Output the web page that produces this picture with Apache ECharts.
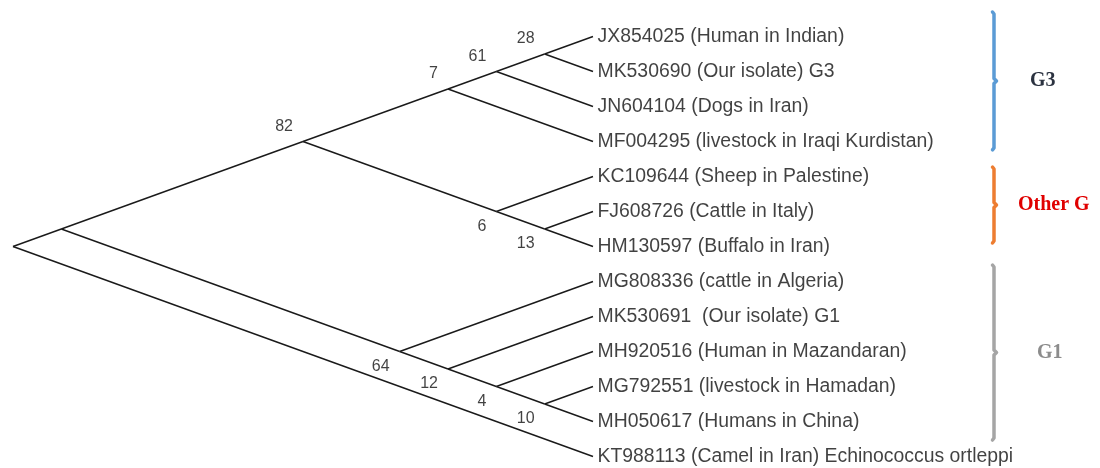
<!DOCTYPE html>
<html>
<head>
<meta charset="utf-8">
<script src="https://cdn.jsdelivr.net/npm/echarts@6/dist/echarts.min.js"></script>
<style>
html,body{margin:0;padding:0;background:#fff;}
#chart{width:1100px;height:468px;}
</style>
</head>
<body>
<div id="chart"></div>
<script>
// ---------- data ----------
const leaves = [
  'JX854025 (Human in Indian)',
  'MK530690 (Our isolate) G3',
  'JN604104 (Dogs in Iran)',
  'MF004295 (livestock in Iraqi Kurdistan)',
  'KC109644 (Sheep in Palestine)',
  'FJ608726 (Cattle in Italy)',
  'HM130597 (Buffalo in Iran)',
  'MG808336 (cattle in Algeria)',
  'MK530691  (Our isolate) G1',
  'MH920516 (Human in Mazandaran)',
  'MG792551 (livestock in Hamadan)',
  'MH050617 (Humans in China)',
  'KT988113 (Camel in Iran) Echinococcus ortleppi'
];
// topology (leaf indices), nested
const tree = [[[[[[0, 1], 2], 3], [4, [5, 6]]], [7, [8, [9, [10, 11]]]]], 12];
// bootstrap supports of internal nodes, pre-order
const supports = [null, null, 82, 7, 61, 28, 6, 13, 64, 12, 4, 10];
// clade groups
const groupNames = ['G3', 'Other G', 'G1'];
const groupFirst = [0, 4, 7];
const groupLast = [3, 6, 11];

// ---------- styles ----------
const groupColors = ['#5b9bd5', '#ed7d31', '#a5a5a5'];
const groupTextColors = ['#2b3240', '#e00000', '#8c8c8c'];
const groupPad = [[0.70, 0.24], [0.27, -0.1], [0.47, 0.53]];
const groupTextLeft = [1030, 1018, 1037];
const bracketX = 994;

// ---------- layout from topology ----------
const edges = [];
const nodeLabels = [];
let pre = 0;
function layout(node) {
  if (typeof node === 'number') {
    return {x: 0, y: node, min: node, max: node};
  }
  const idx = pre++;
  const kids = node.map(layout);
  const min = Math.min(...kids.map(k => k.min));
  const max = Math.max(...kids.map(k => k.max));
  const me = {x: -(max - min) / 2, y: (min + max) / 2, min, max};
  kids.forEach((k, i) => {
    edges.push([me.x, me.y, k.x, k.y]);
    if (k.sup != null) {
      nodeLabels.push({value: [k.x, k.y, k.sup], above: i === 0});
    }
  });
  me.sup = supports[idx];
  return me;
}
layout(tree);

const chart = echarts.init(document.getElementById('chart'), null, {renderer: 'canvas'});
chart.setOption({
  animation: false,
  backgroundColor: '#ffffff',
  grid: {left: 13, right: 507, top: 36.5, bottom: 11.5},
  xAxis: {type: 'value', min: -6, max: 0, show: false},
  yAxis: {type: 'value', min: 0, max: 12, inverse: true, show: false},
  series: [
    {
      type: 'custom',
      clip: false,
      data: edges,
      encode: {x: [0, 2], y: [1, 3]},
      renderItem: function (params, api) {
        const p1 = api.coord([api.value(0), api.value(1)]);
        const p2 = api.coord([api.value(2), api.value(3)]);
        return {
          type: 'line',
          shape: {x1: p1[0], y1: p1[1], x2: p2[0], y2: p2[1]},
          style: {stroke: '#1a1a1a', lineWidth: 1.4}
        };
      }
    },
    {
      type: 'scatter',
      symbolSize: 1,
      itemStyle: {color: 'rgba(0,0,0,0)'},
      data: leaves.map((n, i) => ({value: [0, i], name: n})),
      label: {
        show: true,
        position: 'right',
        distance: 4,
        formatter: p => p.name,
        fontFamily: 'Liberation Sans, Arial, sans-serif',
        fontSize: 19.4,
        color: '#111111',
        textBorderWidth: 0
      }
    },
    {
      type: 'scatter',
      symbolSize: 1,
      itemStyle: {color: 'rgba(0,0,0,0)'},
      data: nodeLabels.map(n => ({
        value: n.value,
        label: {offset: [-10, n.above ? -15 : 15]}
      })),
      label: {
        show: true,
        position: 'inside',
        align: 'right',
        verticalAlign: 'middle',
        formatter: p => String(p.value[2]),
        fontFamily: 'Liberation Sans, Arial, sans-serif',
        fontSize: 16,
        color: '#111111',
        textBorderWidth: 0
      }
    },
    {
      type: 'custom',
      clip: false,
      data: groupNames.map((g, i) => [0, groupFirst[i], groupLast[i], i]),
      encode: {x: 0, y: [1, 2]},
      renderItem: function (params, api) {
        const gi = api.value(3);
        const y1 = api.coord([0, api.value(1) - groupPad[gi][0]])[1];
        const y2 = api.coord([0, api.value(2) + groupPad[gi][1]])[1];
        const ym = (y1 + y2) / 2;
        const x = bracketX;
        return {
          type: 'group',
          children: [
            {
              type: 'polyline',
              shape: {points: [[x - 1.5, y1], [x, y1 + 2], [x, ym - 2.5], [x + 2.5, ym], [x, ym + 2.5], [x, y2 - 2], [x - 1.5, y2]]},
              style: {stroke: groupColors[gi], lineWidth: 3.5, fill: null, lineJoin: 'round', lineCap: 'round'}
            },
            {
              type: 'text',
              x: groupTextLeft[gi],
              y: ym,
              style: {
                text: groupNames[gi],
                fill: groupTextColors[gi],
                font: 'bold 20px "Liberation Serif", "Times New Roman", serif',
                verticalAlign: 'middle',
                align: 'left'
              }
            }
          ]
        };
      }
    }
  ]
});
</script>
</body>
</html>
